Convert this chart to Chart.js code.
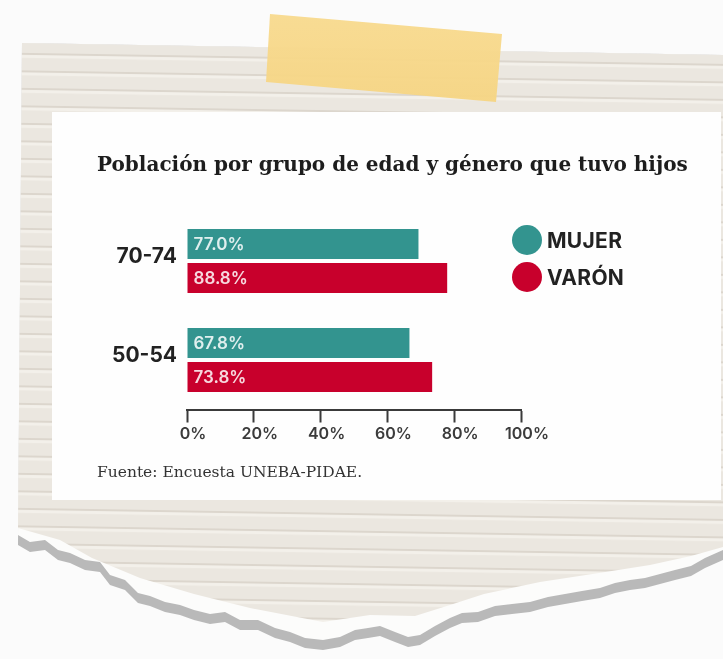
<!DOCTYPE html>
<html lang="es">
<head>
<meta charset="UTF-8" />
<title>Población por grupo de edad y género que tuvo hijos</title>
<script src="https://cdn.jsdelivr.net/npm/chart.js"></script>
<style>
  body { margin: 0; width: 723px; height: 659px; overflow: hidden; background: #fbfbfb; position: relative; }
  #paper { position: absolute; left: 0; top: 0; }
  #card { position: absolute; left: 52px; top: 112px; width: 669px; height: 388px; background: #fefefe; }
  #chart { position: absolute; left: 0; top: 0; }
  .title { position: absolute; left: 45px; top: 39px; font: bold 20px "DejaVu Serif"; line-height: 26px; color: #1d1d1d; white-space: nowrap; }
  .source { position: absolute; left: 45px; top: 349px; font: 15.5px "DejaVu Serif"; line-height: 22px; color: #333; white-space: nowrap; }
  .legend-item { position: absolute; left: 460px; height: 30px; display: flex; align-items: center; }
  .legend-item .dot { width: 30px; height: 30px; border-radius: 50%; margin-right: 5px; }
  .legend-item span { font: 700 21px Inter, sans-serif; color: #222; letter-spacing: 0.3px; }
</style>
</head>
<body>

<!-- lined paper, torn edge and tape -->
<svg id="paper" width="723" height="659">
  <defs>
    <pattern id="lines" patternUnits="userSpaceOnUse" width="723" height="17.5" patternTransform="rotate(0.9)">
      <rect width="723" height="17.5" fill="#ebe7e0"/>
      <rect y="0" width="723" height="2" fill="#dcd6cd"/>
      <rect y="2" width="723" height="3" fill="#f3f0ea"/>
    </pattern>
    <linearGradient id="tape" x1="0" y1="0" x2="0" y2="1">
      <stop offset="0" stop-color="#f8da8e"/>
      <stop offset="1" stop-color="#f6d583"/>
    </linearGradient>
  </defs>
  <polygon id="shadow" fill="#b9b9b9"/>
  <polygon id="torn" fill="#fcfcfb"/>
  <polygon id="sheet" fill="url(#lines)"/>
  <polygon points="270,14 502,34 496,102 266,82" fill="url(#tape)" opacity="0.95"/>
</svg>

<div id="card">
  <canvas id="chart" width="669" height="388"></canvas>
  <div class="title">Población por grupo de edad y género que tuvo hijos</div>
  <div class="source">Fuente: Encuesta UNEBA-PIDAE.</div>
  <div id="legend"></div>
</div>

<script>
// data
const ageGroups = ['70-74', '50-54'];
const seriesNames = ['MUJER', 'VARÓN'];
const seriesColors = ['#33948f', '#c8002c'];
// printed percentages
const mujerPrinted = [77.0, 67.8];
const varonPrinted = [88.8, 73.8];
// bar lengths as drawn on the axis (the original bars do not follow the printed numbers)
const mujerBar = [69.3, 66.6];
const varonBar = [77.9, 73.4];
const xTicks = [0, 20, 40, 60, 80, 100];

// paper outline
const paperTop = [[22, 43], [723, 55]];
const tearLine = [[723,560],[705,568],[691,576],[675,580],[660,584],[645,588],[630,590],[615,593],[600,598],
  [582,601],[565,604],[548,607],[530,612],[512,614],[495,616],[478,622],[462,623],[450,628],[435,636],
  [420,645],[408,647],[395,642],[380,636],[368,638],[355,640],[340,647],[323,650],[305,648],[290,642],
  [275,638],[258,630],[240,630],[225,622],[210,624],[194,620],[180,615],[165,612],[150,606],[138,603],
  [125,590],[110,585],[100,572],[85,570],[70,563],[58,560],[45,550],[30,552],[18,545]];
const sheetEdge = [[723,547],[691,556],[650,565],[599,573],[540,582],[484,594],[450,605],[415,616],
  [370,615],[323,622],[250,608],[194,594],[140,578],[92,558],[60,540],[18,528]];

function outline(bottom, dy) {
  const pts = paperTop.concat(bottom.map(p => [p[0], p[1] + dy]));
  return pts.map(p => p.join(',')).join(' ');
}
document.getElementById('shadow').setAttribute('points', outline(tearLine, 0));
document.getElementById('torn').setAttribute('points', outline(tearLine, -10));
document.getElementById('sheet').setAttribute('points', outline(sheetEdge, 0));

// legend
const legend = document.getElementById('legend');
seriesNames.forEach((name, i) => {
  const item = document.createElement('div');
  item.className = 'legend-item';
  item.style.top = (113 + i * 37) + 'px';
  item.innerHTML = '<div class="dot" style="background:' + seriesColors[i] + '"></div><span>' + name + '</span>';
  legend.appendChild(item);
});

const printed = [mujerPrinted, varonPrinted];

// percentages written inside the bars
const barText = {
  id: 'barText',
  afterDatasetsDraw(chart) {
    const ctx = chart.ctx;
    ctx.save();
    ctx.font = '600 17px Inter, sans-serif';
    ctx.fillStyle = 'rgba(255,255,255,0.85)';
    ctx.textBaseline = 'middle';
    ctx.textAlign = 'left';
    chart.data.datasets.forEach((ds, i) => {
      chart.getDatasetMeta(i).data.forEach((bar, j) => {
        ctx.fillText(printed[i][j].toFixed(1) + '%', bar.base + 6, bar.y + 1);
      });
    });
    ctx.restore();
  }
};

new Chart(document.getElementById('chart'), {
  type: 'bar',
  data: {
    labels: ageGroups,
    datasets: [
      { label: seriesNames[0], data: mujerBar, backgroundColor: seriesColors[0] },
      { label: seriesNames[1], data: varonBar, backgroundColor: seriesColors[1] }
    ]
  },
  options: {
    indexAxis: 'y',
    responsive: false,
    animation: false,
    categoryPercentage: 0.687,
    barPercentage: 0.882,
    layout: { padding: { left: 45, right: 200, top: 99.5, bottom: 50.5 } },
    plugins: {
      legend: { display: false },
      tooltip: { enabled: false }
    },
    scales: {
      x: {
        min: 0,
        max: 100,
        afterBuildTicks: s => { s.ticks = xTicks.map(v => ({ value: v })); },
        afterFit: s => { s.height = 40; },
        grid: { drawOnChartArea: false, drawTicks: true, tickLength: 13, tickWidth: 2, tickColor: '#3a3a3a' },
        border: { display: true, color: '#3a3a3a', width: 2 },
        ticks: {
          callback: v => v + '%',
          color: '#3b3b3b',
          font: { family: 'Inter', size: 16, weight: '600' },
          padding: 2,
          labelOffset: 6,
          maxRotation: 0
        }
      },
      y: {
        afterFit: s => { s.width = 90; },
        grid: { display: false, drawTicks: false },
        border: { display: false },
        ticks: {
          color: '#222',
          font: { family: 'Inter', size: 21, weight: '700' },
          padding: 10,
          labelOffset: -4
        }
      }
    }
  },
  plugins: [barText]
});
</script>
</body>
</html>
